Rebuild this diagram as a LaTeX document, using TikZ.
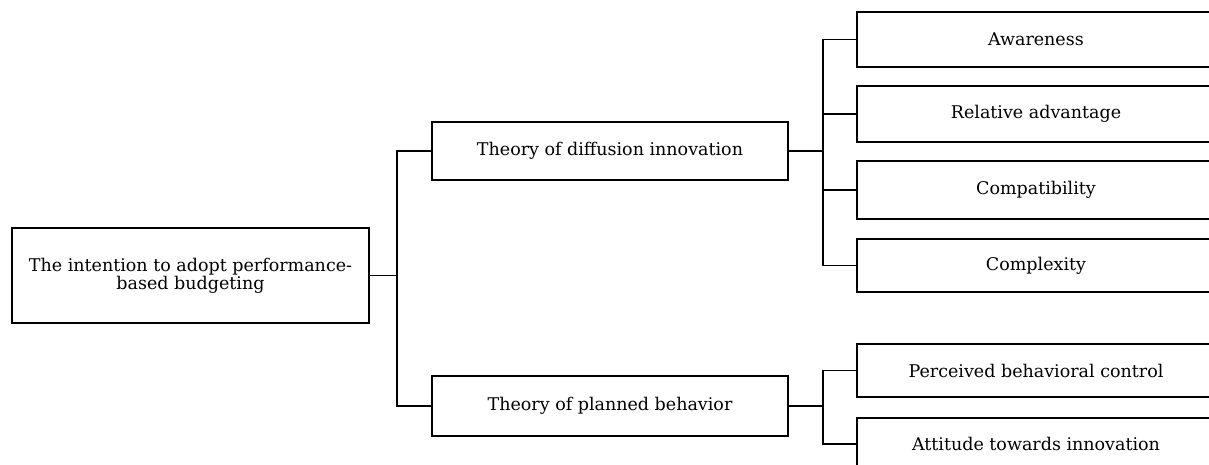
\documentclass[tikz,border=0pt]{standalone}
\usepackage{fontspec}
\setmainfont{DejaVu Serif}
\begin{document}
\begin{tikzpicture}[x=1pt,y=-1pt,
  box/.style={draw,line width=1.3pt,inner sep=0pt,align=center,minimum width=#1},
  box/.default=357pt,
  conn/.style={line width=1.3pt},
  every node/.style={font=\fontsize{17.5}{18}\selectfont}]
\useasboundingbox (0,0) rectangle (1209,464);
\node[box=357pt,minimum height=95pt] (root) at (190.5,275.5) {The intention to adopt performance-\\based budgeting};
\node[box=356pt,minimum height=58pt] (diff) at (610,151) {Theory of diffusion innovation};
\node[box=356pt,minimum height=60pt] (plan) at (610,406) {Theory of planned behavior};
\node[box=358pt,minimum height=55pt] (aw) at (1036,39.5) {Awareness};
\node[box=358pt,minimum height=56pt] (ra) at (1036,114) {Relative advantage};
\node[box=358pt,minimum height=58pt] (co) at (1036,190) {Compatibility};
\node[box=358pt,minimum height=53pt] (cx) at (1036,265.5) {Complexity};
\node[box=358pt,minimum height=53pt] (pb) at (1036,370.5) {Perceived behavioral control};
\node[box=358pt,minimum height=52pt] (at) at (1036,444) {Attitude towards innovation};
\coordinate (j1) at (397,275.5);
\coordinate (j2) at (823,151);
\coordinate (j3) at (823,406);
\draw[conn] (root.east) -- (j1);
\draw[conn] (diff.west) -| (j1);
\draw[conn] (plan.west) -| (j1);
\draw[conn] (diff.east) -- (j2);
\draw[conn] (aw.west) -| (j2);
\draw[conn] (ra.west) -| (j2);
\draw[conn] (co.west) -| (j2);
\draw[conn] (cx.west) -| (j2);
\draw[conn] (plan.east) -- (j3);
\draw[conn] (pb.west) -| (j3);
\draw[conn] (at.west) -| (j3);
\end{tikzpicture}
\end{document}
